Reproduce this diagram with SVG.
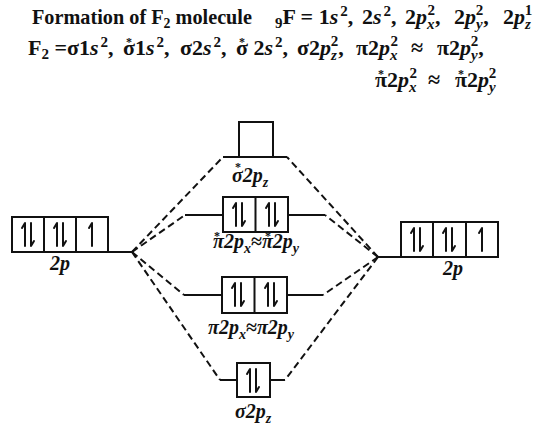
<svg xmlns="http://www.w3.org/2000/svg" xmlns:xlink="http://www.w3.org/1999/xlink" width="535" height="426" viewBox="0 0 535 426">
<style>
text{font-family:"Liberation Serif","DejaVu Serif",serif;font-weight:bold;fill:#111}
.hd{font-size:22px}
.lb{font-size:20px;font-style:italic}
.i{font-style:italic}
.n{font-style:normal}
.sm{font-size:14px}
.su{font-size:15px}
.st{font-size:12px;font-style:normal;text-anchor:middle}
.box{fill:#fff;stroke:#111;stroke-width:2}
.ln{fill:none;stroke:#111;stroke-width:2}
.dash{fill:none;stroke:#111;stroke-width:2;stroke-dasharray:7 4}
.ar{fill:none;stroke:#111;stroke-width:2;stroke-linecap:round;stroke-linejoin:round}
</style>
<defs>
<g id="pair"><path class="ar" d="M13,29 L13,6 L10,11"/><path class="ar" d="M19,6 L19,29 L22,24"/></g>
<g id="up"><path class="ar" d="M16,29 L16,6 L13,11"/></g>
</defs>

<!-- header line 1 -->
<text class="hd" x="32" y="24" textLength="220" lengthAdjust="spacingAndGlyphs">Formation of F<tspan class="su" dy="4">2</tspan><tspan dy="-4"> molecule</tspan></text>
<text class="hd" x="275" y="24"><tspan class="su" dy="4">9</tspan><tspan dy="-4">F = 1</tspan><tspan class="i">s</tspan><tspan class="su" dx="2" dy="-8">2</tspan><tspan dy="8">,</tspan></text>
<text class="hd" x="362" y="24">2<tspan class="i">s</tspan><tspan class="su" dx="2" dy="-8">2</tspan><tspan dy="8">,</tspan></text>
<text class="hd" x="405" y="24">2<tspan class="i">p</tspan><tspan class="su i" dy="5">x</tspan><tspan class="su" dx="-7" dy="-14">2</tspan><tspan dy="9">,</tspan></text>
<text class="hd" x="454" y="24">2<tspan class="i">p</tspan><tspan class="su i" dy="5">y</tspan><tspan class="su" dx="-7" dy="-14">2</tspan><tspan dy="9">,</tspan></text>
<text class="hd" x="503" y="24">2<tspan class="i">p</tspan><tspan class="su i" dy="5">z</tspan><tspan class="su" dx="-6" dy="-14">1</tspan></text>

<!-- header line 2 -->
<text class="hd" x="28" y="55">F<tspan class="su" dy="4">2</tspan><tspan dy="-4"> =σ1</tspan><tspan class="i">s</tspan><tspan class="su" dx="2" dy="-8">2</tspan><tspan dy="8">,</tspan></text>
<text class="hd" x="123" y="55">σ1<tspan class="i">s</tspan><tspan class="su" dx="2" dy="-8">2</tspan><tspan dy="8">,</tspan></text>
<text class="hd" x="180" y="55">σ2<tspan class="i">s</tspan><tspan class="su" dx="2" dy="-8">2</tspan><tspan dy="8">,</tspan></text>
<text class="hd" x="236" y="55">σ 2<tspan class="i">s</tspan><tspan class="su" dx="2" dy="-8">2</tspan><tspan dy="8">,</tspan></text>
<text class="hd" x="297" y="55">σ2<tspan class="i">p</tspan><tspan class="su i" dy="5">z</tspan><tspan class="su" dx="-6" dy="-14">2</tspan><tspan dy="9">,</tspan></text>
<text class="hd" x="356" y="55">π2<tspan class="i">p</tspan><tspan class="su i" dy="5">x</tspan><tspan class="su" dx="-7" dy="-14">2</tspan></text>
<text class="hd" x="411" y="55">≈</text>
<text class="hd" x="437" y="55">π2<tspan class="i">p</tspan><tspan class="su i" dy="5">y</tspan><tspan class="su" dx="-7" dy="-14">2</tspan><tspan dy="9">,</tspan></text>
<text class="st" x="129" y="46">*</text>
<text class="st" x="242" y="46">*</text>

<!-- header line 3 -->
<text class="hd" x="375" y="87">π2<tspan class="i">p</tspan><tspan class="su i" dy="5">x</tspan><tspan class="su" dx="-7" dy="-14">2</tspan></text>
<text class="hd" x="428" y="87">≈</text>
<text class="hd" x="455" y="87">π2<tspan class="i">p</tspan><tspan class="su i" dy="5">y</tspan><tspan class="su" dx="-7" dy="-14">2</tspan></text>
<text class="st" x="381" y="78">*</text>
<text class="st" x="461" y="78">*</text>

<!-- connectors -->
<g id="connectors">
<path class="ln" d="M108,252 L132,252"/>
<path class="ln" d="M378,257 L401,257"/>
<path class="ln" d="M223,157 L287,157"/>
<path class="ln" d="M185,215 L223,215 M288,215 L325,215"/>
<path class="ln" d="M184,295 L222,295 M287,295 L323,295"/>
<path class="ln" d="M220,380 L237,380 M270,380 L285,380"/>
<path class="dash" d="M132,252 L223,157"/>
<path class="dash" d="M132,252 L185,215"/>
<path class="dash" d="M132,252 L184,295"/>
<path class="dash" d="M132,252 L220,380"/>
<path class="dash" d="M378,257 L287,157"/>
<path class="dash" d="M378,257 L325,215"/>
<path class="dash" d="M378,257 L323,295"/>
<path class="dash" d="M378,257 L285,380"/>
</g>

<!-- left atomic 2p -->
<g id="left2p">
<rect class="box" x="12" y="217" width="96" height="35"/>
<path class="ln" d="M44,217 V252 M76,217 V252"/>
<use xlink:href="#pair" x="12" y="217"/>
<use xlink:href="#pair" x="44" y="217"/>
<use xlink:href="#up" x="76" y="217"/>
<text class="lb" x="60" y="270" text-anchor="middle">2p</text>
</g>

<!-- right atomic 2p -->
<g id="right2p">
<rect class="box" x="401" y="222" width="97" height="35"/>
<path class="ln" d="M433,222 V257 M466,222 V257"/>
<use xlink:href="#pair" x="401" y="222"/>
<use xlink:href="#pair" x="433" y="222"/>
<use xlink:href="#up" x="466" y="222"/>
<text class="lb" x="453" y="275" text-anchor="middle">2p</text>
</g>

<!-- sigma* 2pz -->
<g id="sigmaStar2pz">
<rect class="box" x="239" y="122" width="34" height="35"/>
<text class="lb" x="232" y="182">σ2p<tspan class="sm" dy="5">z</tspan></text>
<text class="st" x="238" y="171">*</text>
</g>

<!-- pi* 2px,2py -->
<g id="piStar2p">
<rect class="box" x="223" y="197" width="65" height="35"/>
<path class="ln" d="M255.5,197 V232"/>
<use xlink:href="#pair" x="223" y="197"/>
<use xlink:href="#pair" x="256" y="197"/>
<text class="lb" x="213" y="248">π2p<tspan class="sm" dy="5">x</tspan><tspan class="n" dy="-5">≈</tspan>π2p<tspan class="sm" dy="5">y</tspan></text>
<text class="st" x="217" y="240">*</text>
<text class="st" x="268" y="240">*</text>
</g>

<!-- pi 2px,2py -->
<g id="pi2p">
<rect class="box" x="222" y="277" width="65" height="36"/>
<path class="ln" d="M254.5,277 V313"/>
<use xlink:href="#pair" x="222" y="277"/>
<use xlink:href="#pair" x="255" y="277"/>
<text class="lb" x="208" y="334">π2p<tspan class="sm" dy="5">x</tspan><tspan class="n" dy="-5">≈</tspan>π2p<tspan class="sm" dy="5">y</tspan></text>
</g>

<!-- sigma 2pz -->
<g id="sigma2pz">
<rect class="box" x="237" y="363" width="33" height="34"/>
<use xlink:href="#pair" x="237" y="363"/>
<text class="lb" x="235" y="418">σ2p<tspan class="sm" dy="5">z</tspan></text>
</g>
</svg>
